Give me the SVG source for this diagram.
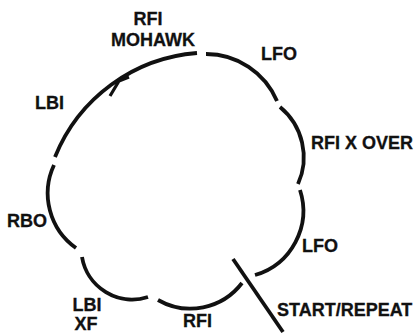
<svg xmlns="http://www.w3.org/2000/svg" width="417" height="334" viewBox="0 0 417 334">
<style>
.lbl{font-family:"Liberation Sans",Arial,sans-serif;font-weight:bold;font-size:18px;fill:#111;stroke:#111;stroke-width:0.3}
.arc{fill:none;stroke:#111;stroke-width:3.8;stroke-linecap:butt}
</style>
<rect width="417" height="334" fill="#fff"/>
<g id="connectors">
<path class="arc" d="M55,157 A167,167 0 0 1 197,53"/>
<path class="arc" d="M206,54 A77,77 0 0 1 277,101"/>
<path class="arc" d="M280,107 A65,65 0 0 1 298,184"/>
<path class="arc" d="M300,190 A67,67 0 0 1 255,275"/>
<path class="arc" d="M242,283 A65,65 0 0 1 158,300"/>
<path class="arc" d="M148,297 A51,51 0 0 1 82,257"/>
<path class="arc" d="M76,248 A67,67 0 0 1 54,165"/>
<path class="arc" style="stroke-width:3.2" d="M110,96 L119,81 L129,77"/>
<path class="arc" d="M233,259 L283,332"/>
</g>
<g id="rfi-mohawk"><text class="lbl" x="148" y="25" text-anchor="middle">RFI</text><text class="lbl" x="153" y="46" text-anchor="middle">MOHAWK</text></g>
<g id="lfo-top"><text class="lbl" x="261" y="60">LFO</text></g>
<g id="lbi-left"><text class="lbl" x="35" y="109">LBI</text></g>
<g id="rfi-x-over"><text class="lbl" x="311" y="149">RFI X OVER</text></g>
<g id="rbo"><text class="lbl" x="7" y="227">RBO</text></g>
<g id="lfo-bottom"><text class="lbl" x="302" y="252">LFO</text></g>
<g id="start-repeat"><text class="lbl" x="277" y="316">START/REPEAT</text></g>
<g id="lbi-xf"><text class="lbl" x="87" y="311" text-anchor="middle">LBI</text><text class="lbl" x="86" y="330" text-anchor="middle">XF</text></g>
<g id="rfi-bottom"><text class="lbl" x="183" y="327">RFI</text></g>
</svg>
